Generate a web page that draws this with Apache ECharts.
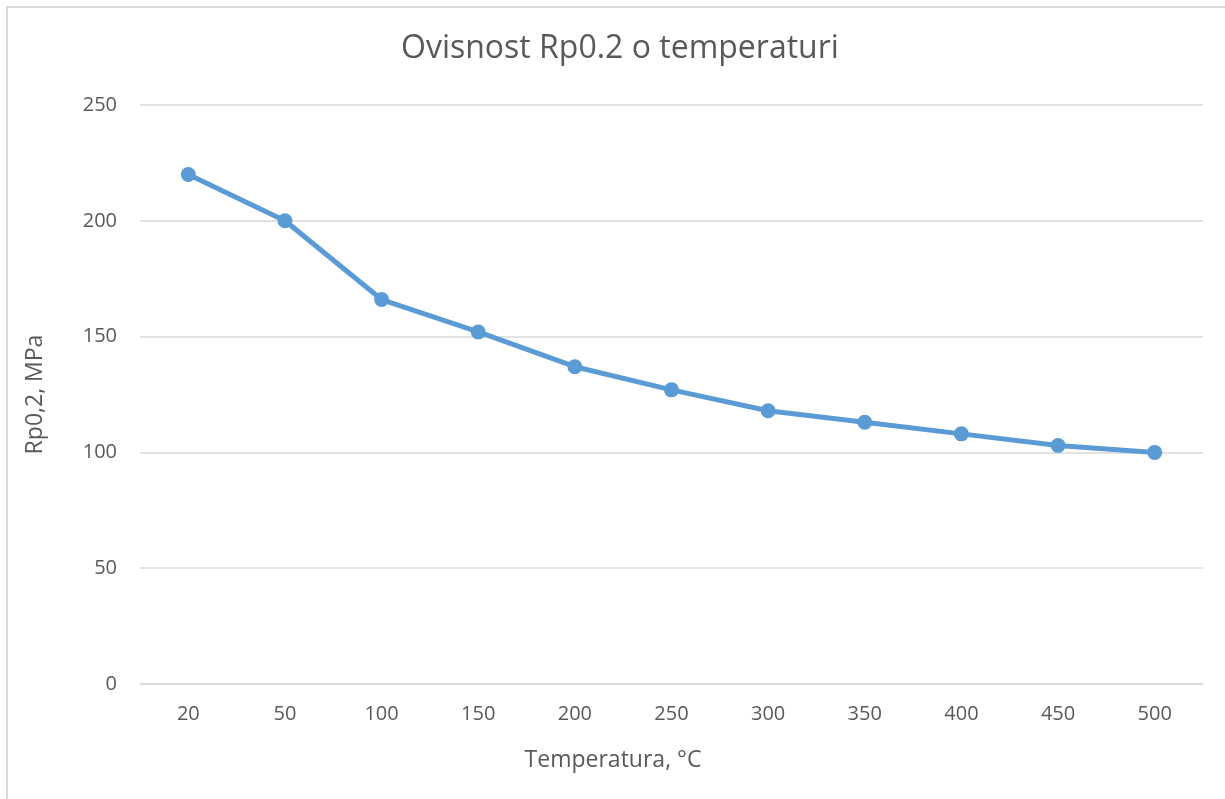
<!DOCTYPE html>
<html>
<head>
<meta charset="utf-8">
<script src="https://cdn.jsdelivr.net/npm/echarts@6/dist/echarts.min.js"></script>
<style>
  html, body { margin: 0; padding: 0; background: #fff; }
  #chart { width: 1225px; height: 799px; }
</style>
</head>
<body>
<div id="chart"></div>
<script>
// Yield strength Rp0.2 versus temperature
const temperatures = ['20', '50', '100', '150', '200', '250', '300', '350', '400', '450', '500'];
const rp02Values = [220, 200, 166, 152, 137, 127, 118, 113, 108, 103, 100];

const FONT = '"Open Sans", "Liberation Sans", sans-serif';
const TEXT = '#595959';

const chart = echarts.init(document.getElementById('chart'));
chart.setOption({
  animation: false,
  backgroundColor: '#ffffff',
  title: {
    text: 'Ovisnost Rp0.2 o temperaturi',
    left: 396,
    top: 28,
    textStyle: { fontFamily: FONT, fontSize: 32, fontWeight: 'normal', color: TEXT }
  },
  graphic: [{
    type: 'rect',
    shape: { x: 7, y: 7, width: 1300, height: 900 },
    style: { fill: 'none', stroke: '#d9d9d9', lineWidth: 2 },
    silent: true
  }, {
    // x-axis title, centred under the chart body rather than the plot
    type: 'text',
    x: 613,
    y: 760,
    style: {
      text: 'Temperatura, °C',
      font: '23px ' + FONT,
      fill: TEXT,
      textAlign: 'center',
      textVerticalAlign: 'middle'
    },
    silent: true
  }],
  grid: { left: 140, right: 22, top: 105, bottom: 115 },
  xAxis: {
    type: 'category',
    data: temperatures,
    boundaryGap: true,
    axisLine: { show: true, lineStyle: { color: '#d9d9d9', width: 1.5 } },
    axisTick: { show: false },
    axisLabel: { fontFamily: FONT, fontSize: 20, color: TEXT, margin: 20 }
  },
  yAxis: {
    type: 'value',
    min: 0,
    max: 250,
    interval: 50,
    name: 'Rp0,2, MPa',
    nameLocation: 'middle',
    nameGap: 93,
    nameTextStyle: { fontFamily: FONT, fontSize: 23, color: TEXT },
    axisLine: { show: false },
    axisTick: { show: false },
    axisLabel: { fontFamily: FONT, fontSize: 20, color: TEXT, margin: 23 },
    splitLine: { lineStyle: { color: '#d9d9d9', width: 1.5 } }
  },
  series: [{
    type: 'line',
    data: rp02Values,
    symbol: 'circle',
    symbolSize: 15,
    lineStyle: { color: '#5b9bd5', width: 5 },
    itemStyle: { color: '#5b9bd5' }
  }]
});
</script>
</body>
</html>
